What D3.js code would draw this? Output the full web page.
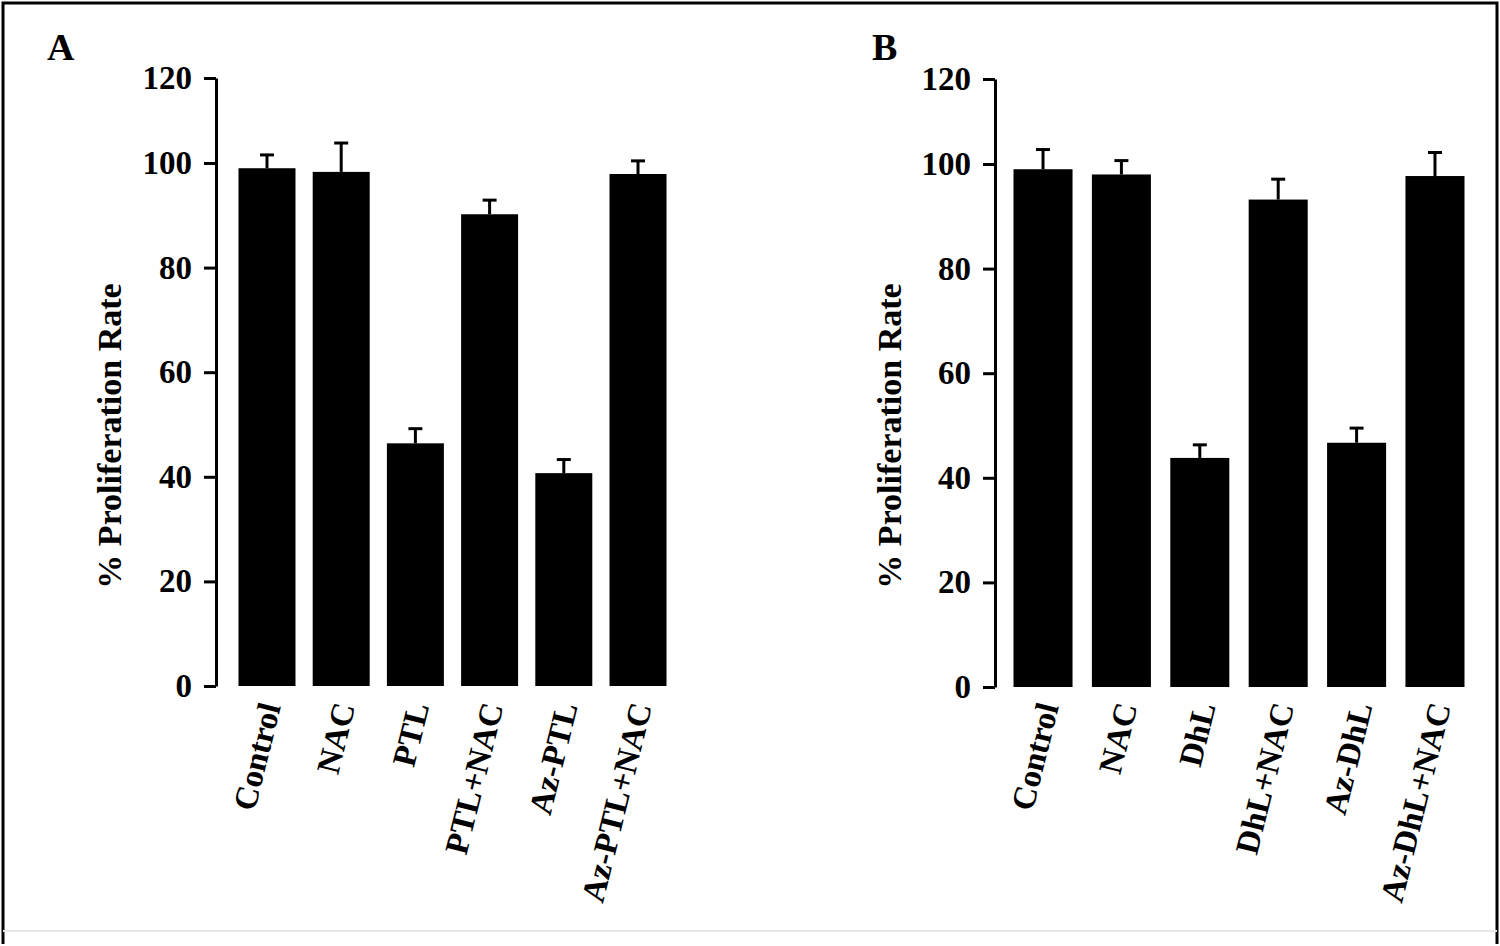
<!DOCTYPE html>
<html>
<head>
<meta charset="utf-8">
<script src="https://cdn.jsdelivr.net/npm/d3@7"></script>
<style>
  body { margin: 0; background: #fff; }
  text { font-family: "Liberation Serif", "Times New Roman", serif; font-weight: bold; fill: #000; }
</style>
</head>
<body>
<div id="fig"></div>
<script>
// data
var catsA = ["Control", "NAC", "PTL", "PTL+NAC", "Az-PTL", "Az-PTL+NAC"];
var valsA = [99.0, 98.3, 46.4, 90.2, 40.7, 97.9];
var errA  = [2.9, 6.4, 2.8, 2.7, 2.6, 2.6];

var catsB = ["Control", "NAC", "DhL", "DhL+NAC", "Az-DhL", "Az-DhL+NAC"];
var valsB = [99.0, 98.0, 43.8, 93.2, 46.7, 97.7];
var errB  = [4.4, 2.8, 2.5, 3.9, 2.8, 5.0];

var yTicks = [0, 20, 40, 60, 80, 100, 120];
var yLabel = "% Proliferation Rate";

var W = 1500, H = 946;

var svg = d3.select("#fig")
  .append("svg")
    .attr("width", W)
    .attr("height", H);

// outer frame
svg.append("path")
  .attr("d", "M3,944 V3 H1497 V944")
  .attr("fill", "none")
  .attr("stroke", "#000")
  .attr("stroke-width", 3);
svg.append("line")
  .attr("x1", 3).attr("x2", 1497)
  .attr("y1", 931).attr("y2", 931)
  .attr("stroke", "#e6e6e6")
  .attr("stroke-width", 2);

var drawPanel = function(opt) {
  // the printed axis is a bit squeezed between 100 and 120
  var y = d3.scaleLinear()
    .domain([0, 100, 120])
    .range(opt.yRange);

  var x = d3.scaleBand()
    .domain(opt.cats)
    .range(opt.xRange)
    .paddingInner(opt.pad)
    .paddingOuter(0);

  var g = svg.append("g");

  // panel letter
  g.append("text")
    .attr("x", opt.letterX)
    .attr("y", 60)
    .style("font-size", "38px")
    .text(opt.letter);

  // y axis
  var ax = g.append("g")
    .attr("transform", "translate(" + opt.axisX + ",0)")
    .call(d3.axisLeft(y).tickValues(yTicks).tickSize(12).tickPadding(12).tickSizeOuter(0));
  ax.select(".domain").attr("stroke-width", 3);
  ax.selectAll(".tick line").attr("stroke-width", 3);
  ax.selectAll(".tick text")
    .style("font-size", "33px")
    .style("font-family", "Liberation Serif, serif")
    .style("font-weight", "bold");

  // y label
  g.append("text")
    .attr("transform", "translate(" + opt.labelX + ",436) rotate(-90)")
    .attr("text-anchor", "middle")
    .style("font-size", "34px")
    .text(yLabel);

  // bars
  g.selectAll(".bar")
    .data(opt.vals)
    .enter()
    .append("rect")
      .attr("x", function(d, i) { return x(opt.cats[i]); })
      .attr("width", x.bandwidth())
      .attr("y", function(d) { return y(d); })
      .attr("height", function(d) { return y(0) - y(d); })
      .attr("fill", "#000");

  // error bars (upper only)
  var eb = g.selectAll(".err")
    .data(opt.vals)
    .enter()
    .append("g");
  eb.append("line")
    .attr("x1", function(d, i) { return x(opt.cats[i]) + x.bandwidth() / 2; })
    .attr("x2", function(d, i) { return x(opt.cats[i]) + x.bandwidth() / 2; })
    .attr("y1", function(d) { return y(d); })
    .attr("y2", function(d, i) { return y(d + opt.errs[i]); })
    .attr("stroke", "#000")
    .attr("stroke-width", 3);
  eb.append("line")
    .attr("x1", function(d, i) { return x(opt.cats[i]) + x.bandwidth() / 2 - 7; })
    .attr("x2", function(d, i) { return x(opt.cats[i]) + x.bandwidth() / 2 + 7; })
    .attr("y1", function(d, i) { return y(d + opt.errs[i]); })
    .attr("y2", function(d, i) { return y(d + opt.errs[i]); })
    .attr("stroke", "#000")
    .attr("stroke-width", 3);

  // slanted category labels
  g.selectAll(".cat")
    .data(opt.cats)
    .enter()
    .append("text")
      .attr("transform", function(d) {
        return "translate(" + (x(d) + x.bandwidth() / 2 + opt.labOff) + ",706) rotate(-76)";
      })
      .attr("text-anchor", "end")
      .style("font-size", "33px")
      .text(function(d) { return d; });
};

drawPanel({
  letter: "A", letterX: 47,
  cats: catsA, vals: valsA, errs: errA,
  yRange: [686, 163, 78],
  xRange: [238.5, 666.5], pad: 0.232,
  axisX: 216, labelX: 121, labOff: 14
});

drawPanel({
  letter: "B", letterX: 872,
  cats: catsB, vals: valsB, errs: errB,
  yRange: [687, 164, 79],
  xRange: [1013.5, 1464.5], pad: 0.247,
  axisX: 995, labelX: 901, labOff: 16
});
</script>
</body>
</html>
